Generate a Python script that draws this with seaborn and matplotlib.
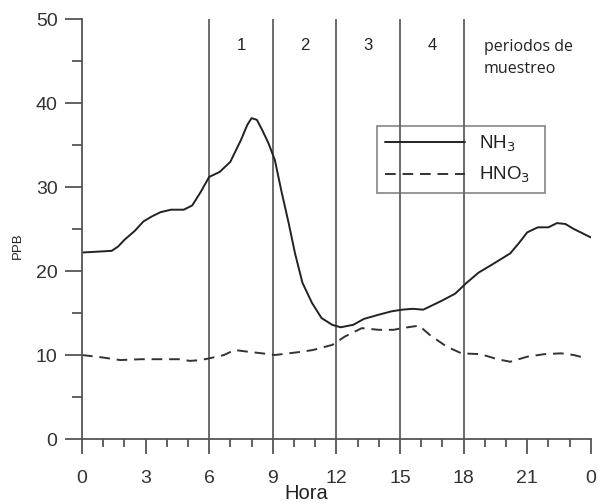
import matplotlib
matplotlib.use("Agg")
import matplotlib.pyplot as plt
import seaborn as sns
import pandas as pd
from matplotlib.ticker import MultipleLocator, FixedLocator

# ---- data ----
nh3_hours = [0, 0.7, 1.4, 1.7, 2.0, 2.5, 2.9, 3.3, 3.7, 4.2, 4.8, 5.2, 5.6, 6.0, 6.5, 7.0, 7.5,
             7.8, 8.0, 8.25, 8.5, 8.8, 9.1, 9.4, 9.75, 10.05, 10.4, 10.85, 11.3, 11.8, 12.2, 12.8,
             13.3, 14.0, 14.6, 15.1, 15.6, 16.1, 17.0, 17.6, 18.1, 18.7, 19.3, 20.2, 20.6,
             21.0, 21.5, 22.0, 22.4, 22.8, 23.2, 23.6, 24.0]
nh3_ppb = [22.2, 22.3, 22.4, 22.9, 23.7, 24.8, 25.9, 26.5, 27.0, 27.3, 27.3, 27.8, 29.4, 31.2,
           31.8, 33.0, 35.6, 37.4, 38.2, 38.0, 36.8, 35.2, 33.2, 29.6, 25.7, 22.1, 18.6, 16.2,
           14.4, 13.6, 13.3, 13.6, 14.3, 14.8, 15.2, 15.4, 15.5, 15.4, 16.5, 17.3, 18.5, 19.8,
           20.7, 22.1, 23.3, 24.6, 25.2, 25.2, 25.7, 25.6, 25.0, 24.5, 24.0]
hno3_hours = [0, 1.0, 1.8, 2.8, 4.0, 4.6, 5.1, 5.6, 6.0, 6.7, 7.2, 7.8, 8.5, 9.1, 10.4, 10.9,
              11.8, 12.4, 13.2, 14.0, 14.7, 15.1, 15.9, 16.4, 17.2, 17.9, 18.8, 19.6, 20.2,
              21.0, 21.8, 22.6, 23.2, 23.8]
hno3_ppb = [10.0, 9.7, 9.4, 9.5, 9.5, 9.5, 9.3, 9.4, 9.6, 10.0, 10.6, 10.4, 10.2, 10.0, 10.4,
            10.6, 11.2, 12.2, 13.2, 13.0, 13.0, 13.2, 13.5, 12.4, 11.0, 10.2, 10.1, 9.5, 9.2,
            9.8, 10.1, 10.2, 10.0, 9.6]
period_bounds = [6, 9, 12, 15, 18]
period_labels = ["1", "2", "3", "4"]
x_ticks = [0, 3, 6, 9, 12, 15, 18, 21, 24]
x_ticklabels = ["0", "3", "6", "9", "12", "15", "18", "21", "0"]
y_ticks = [0, 10, 20, 30, 40, 50]

df = pd.concat([
    pd.DataFrame({"Hora": nh3_hours, "PPB": nh3_ppb, "especie": "NH$_3$"}),
    pd.DataFrame({"Hora": hno3_hours, "PPB": hno3_ppb, "especie": "HNO$_3$"}),
], ignore_index=True)

sns.set_style("white")
plt.rcParams["font.family"] = ["Liberation Sans", "DejaVu Sans"]

fig = plt.figure(figsize=(5.98, 5.03), dpi=100)
ax = fig.add_axes([0.137, 0.1272, 0.851, 0.835])

axis_col = "#555555"
sns.lineplot(data=df, x="Hora", y="PPB", hue="especie", style="especie",
             palette={"NH$_3$": "#222222", "HNO$_3$": "#333333"},
             dashes={"NH$_3$": "", "HNO$_3$": (5.5, 3.5)},
             linewidth=1.4, ax=ax, sort=False, estimator=None, legend=True)
for ln in ax.get_lines():
    ln.set_solid_joinstyle("round")
    ln.set_dash_joinstyle("round")

for b in period_bounds:
    ax.axvline(b, ymin=0, ymax=1, color="#444444", lw=1.1, zorder=1)

for i, lab in enumerate(period_labels):
    mid = (period_bounds[i] + period_bounds[i + 1]) / 2
    ax.text(mid, 46.8, lab, ha="center", va="center", fontsize=12, color="#222222")
ax.text(18.95, 45.4, "periodos de\nmuestreo", ha="left", va="center", fontsize=11.5,
        color="#222222", family=["Open Sans", "DejaVu Sans"], linespacing=1.5)

ax.set_xlim(0, 24)
ax.set_ylim(0, 50)
ax.xaxis.set_major_locator(FixedLocator(x_ticks))
ax.set_xticklabels(x_ticklabels)
ax.xaxis.set_minor_locator(MultipleLocator(1))
ax.set_yticks(y_ticks)
ax.yaxis.set_minor_locator(MultipleLocator(5))

for s in ["top", "right"]:
    ax.spines[s].set_visible(False)
for s in ["left", "bottom"]:
    ax.spines[s].set_color(axis_col)
    ax.spines[s].set_linewidth(1.3)

ax.tick_params(axis="x", which="major", length=11, width=1.3, color=axis_col,
               labelsize=14, labelcolor="#333333", direction="out", bottom=True, pad=11)
ax.tick_params(axis="x", which="minor", length=6, width=1.3, color=axis_col,
               direction="out", bottom=True)
ax.tick_params(axis="y", which="major", length=12.5, width=1.3, color=axis_col,
               labelsize=14, labelcolor="#333333", direction="out", left=True, pad=5)
ax.tick_params(axis="y", which="minor", length=7.5, width=1.3, color=axis_col,
               direction="out", left=True)

ax.set_xlabel("Hora", fontsize=14.5, color="#222222")
ax.xaxis.set_label_coords(0.44, -0.108)
ax.set_ylabel("PPB", fontsize=9.5, color="#222222")
ax.yaxis.set_label_coords(-0.115, 0.46)

leg = ax.legend(loc="upper left", bbox_to_anchor=(0.58, 0.583, 0.33, 0.162), mode="expand",
                frameon=True, fancybox=False, facecolor="none", edgecolor="#666666",
                fontsize=13.5, handlelength=4.3, handletextpad=0.75, borderpad=0.4,
                labelspacing=0.6, borderaxespad=0, title=None)
leg.get_frame().set_linewidth(1.2)
for t in leg.get_texts():
    t.set_color("#222222")

fig.savefig("out.png", dpi=100)
